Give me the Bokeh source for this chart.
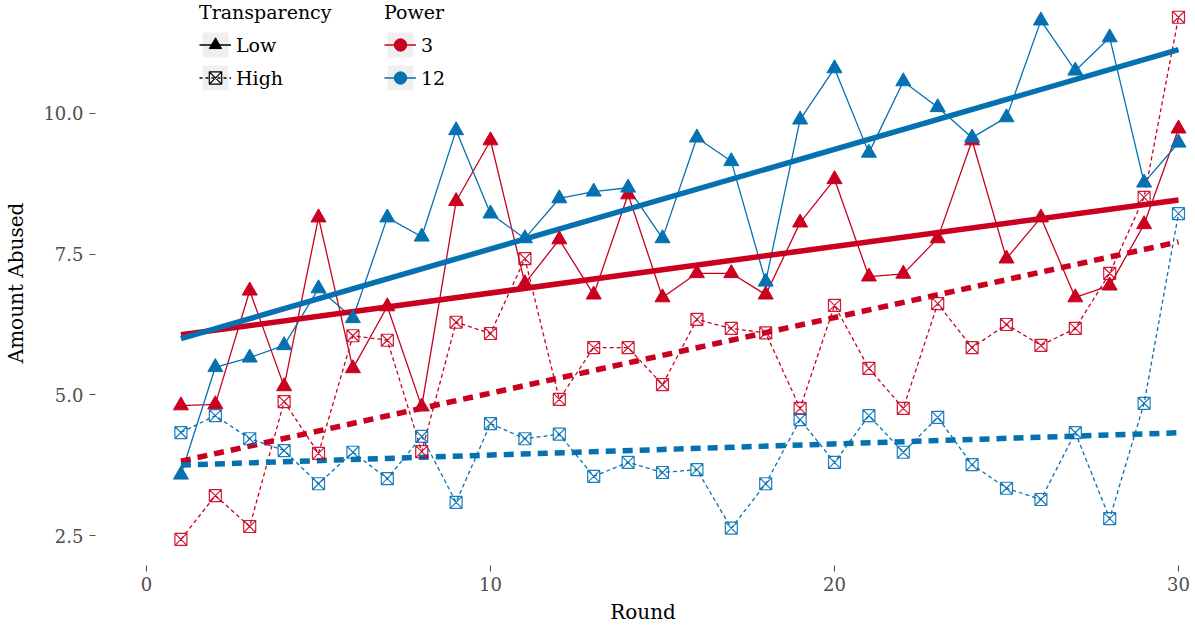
import numpy as np
from bokeh.plotting import figure
from bokeh.models import Range1d, FixedTicker, PrintfTickFormatter, Legend, LegendItem
from bokeh.embed import file_html
from bokeh.resources import INLINE

# ---------------- data ----------------
rounds = [1, 2, 3, 4, 5, 6, 7, 8, 9, 10, 11, 12, 13, 14, 15,
          16, 17, 18, 19, 20, 21, 22, 23, 24, 25, 26, 27, 28, 29, 30]

low_power3 = [4.81, 4.83, 6.85, 5.15, 8.15, 5.47, 6.57, 4.79, 8.44, 9.52,
              6.98, 7.76, 6.78, 8.56, 6.73, 7.16, 7.16, 6.78, 8.06, 8.83,
              7.10, 7.15, 7.78, 9.52, 7.42, 8.15, 6.73, 6.94, 8.03, 9.73]

low_power12 = [3.58, 5.49, 5.66, 5.88, 6.89, 6.36, 8.15, 7.81, 9.70, 8.22,
               7.78, 8.49, 8.61, 8.68, 7.78, 9.57, 9.15, 7.01, 9.89, 10.80,
               9.30, 10.57, 10.11, 9.57, 9.93, 11.65, 10.76, 11.35, 8.77, 9.48]

high_power3 = [2.43, 3.21, 2.66, 4.88, 3.96, 6.05, 5.97, 3.99, 6.29, 6.09,
               7.42, 4.92, 5.84, 5.84, 5.18, 6.34, 6.18, 6.10, 4.76, 6.59,
               5.47, 4.76, 6.62, 5.84, 6.25, 5.88, 6.18, 7.16, 8.51, 11.71]

high_power12 = [4.33, 4.63, 4.22, 4.01, 3.42, 3.98, 3.51, 4.26, 3.09, 4.49,
                4.22, 4.30, 3.55, 3.80, 3.62, 3.67, 2.63, 3.42, 4.56, 3.80,
                4.63, 3.98, 4.60, 3.76, 3.34, 3.14, 4.33, 2.80, 4.85, 8.22]

transparency_levels = ["Low", "High"]
power_levels = ["3", "12"]
x_ticks = [0, 10, 20, 30]
y_ticks = [2.5, 5.0, 7.5, 10.0]

# ---------------- styling ----------------
RED = "#CA0020"
BLUE = "#0571B0"
FONT = "DejaVu Serif"
GREY_TXT = "#4d4d4d"
NAN = float("nan")

W, H = 1195, 630
BORDER_LEFT = 95
BORDER_RIGHT = 5
BORDER_BOTTOM = 65
FRAME_H = H - BORDER_BOTTOM

p = figure(width=W, height=H,
           x_range=Range1d(-1.483, 30.349), y_range=Range1d(1.967, 12.008),
           output_backend="svg", toolbar_location=None,
           min_border_left=BORDER_LEFT, min_border_right=BORDER_RIGHT,
           min_border_top=0, min_border_bottom=BORDER_BOTTOM)

p.background_fill_color = "white"
p.border_fill_color = "white"
p.outline_line_color = None
p.xgrid.visible = False
p.ygrid.visible = False

for ax in (p.xaxis[0], p.yaxis[0]):
    ax.axis_line_color = None
    ax.major_tick_line_color = GREY_TXT
    ax.major_tick_line_width = 1
    ax.major_tick_out = 6
    ax.major_tick_in = 0
    ax.minor_tick_line_color = None
    ax.major_label_text_font = FONT
    ax.major_label_text_font_size = "18px"
    ax.major_label_text_color = GREY_TXT
    ax.axis_label_text_font = FONT
    ax.axis_label_text_font_size = "20px"
    ax.axis_label_text_font_style = "normal"
    ax.axis_label_text_color = "black"

p.xaxis.ticker = FixedTicker(ticks=x_ticks)
p.yaxis.ticker = FixedTicker(ticks=y_ticks)
p.yaxis.formatter = PrintfTickFormatter(format="%.1f")
p.xaxis.axis_label = "Round"
p.yaxis.axis_label = "Amount Abused"
p.xaxis.major_label_standoff = 5
p.yaxis.major_label_standoff = 6
p.xaxis.axis_label_standoff = 6
p.yaxis.axis_label_standoff = 12

series = [
    (low_power3, RED, "solid", "triangle"),
    (low_power12, BLUE, "solid", "triangle"),
    (high_power3, RED, "4 3", "square_x"),
    (high_power12, BLUE, "4 3", "square_x"),
]

# thin connecting lines
for vals, col, dash, mk in series:
    p.line(rounds, vals, line_color=col, line_width=1.3, line_dash=dash)

# linear fits (thick)
xs = np.array(rounds, dtype=float)
ends = [xs.min(), xs.max()]
for vals, col, dash, mk in series:
    b, a = np.polyfit(xs, np.array(vals, dtype=float), 1)
    fit_dash = "solid" if dash == "solid" else "10 7"
    p.line(ends, [a + b * ends[0], a + b * ends[1]], line_color=col,
           line_width=5.5, line_dash=fit_dash)

# markers
for vals, col, dash, mk in series:
    if mk == "triangle":
        p.scatter(rounds, vals, marker="triangle", size=15,
                  fill_color=col, line_color=col, line_width=1)
    else:
        p.scatter(rounds, vals, marker="square_x", size=12,
                  fill_color=None, line_color=col, line_width=1.2, line_alpha=0.9)

# ---------------- legends (key glyphs only; NaN data so nothing shows in the plot) ----------------
key_bg = p.quad(left=[NAN], right=[NAN], top=[NAN], bottom=[NAN], fill_color="#efefef", line_color=None)
k_low_line = p.line([NAN], [NAN], line_color="black", line_width=1.3)
k_low_mk = p.scatter([NAN], [NAN], marker="triangle", size=15, fill_color="black", line_color="black")
k_high_line = p.line([NAN], [NAN], line_color="black", line_width=1.3, line_dash="3 3")
k_high_mk = p.scatter([NAN], [NAN], marker="square_x", size=12, fill_color=None, line_color="black", line_width=1.2)
k_red_line = p.line([NAN], [NAN], line_color=RED, line_width=1.3)
k_red_mk = p.scatter([NAN], [NAN], marker="circle", size=12, fill_color=RED, line_color=RED)
k_blue_line = p.line([NAN], [NAN], line_color=BLUE, line_width=1.3)
k_blue_mk = p.scatter([NAN], [NAN], marker="circle", size=12, fill_color=BLUE, line_color=BLUE)

KEY = 31
TITLE_STANDOFF = 6
LEG_H = 22 + TITLE_STANDOFF + KEY + 2 + KEY

def make_legend(title, items, loc):
    leg = Legend(items=items, title=title, location=loc)
    leg.background_fill_alpha = 0
    leg.border_line_color = None
    leg.padding = 0
    leg.margin = 0
    leg.spacing = 2
    leg.glyph_width = 32
    leg.glyph_height = KEY
    leg.label_height = KEY
    leg.label_standoff = 5
    leg.title_standoff = TITLE_STANDOFF
    leg.label_text_font = FONT
    leg.label_text_font_size = "19px"
    leg.title_text_font = FONT
    leg.title_text_font_size = "19px"
    leg.title_text_font_style = "normal"
    leg.label_text_color = "black"
    leg.title_text_color = "black"
    return leg

leg_t = make_legend("Transparency", [
    LegendItem(label=transparency_levels[0], renderers=[key_bg, k_low_line, k_low_mk]),
    LegendItem(label=transparency_levels[1], renderers=[key_bg, k_high_line, k_high_mk]),
], (104, FRAME_H - LEG_H - 1))
leg_p = make_legend("Power", [
    LegendItem(label=power_levels[0], renderers=[key_bg, k_red_line, k_red_mk]),
    LegendItem(label=power_levels[1], renderers=[key_bg, k_blue_line, k_blue_mk]),
], (289, FRAME_H - LEG_H - 1))
p.add_layout(leg_t)
p.add_layout(leg_p)

open("out.html", "w").write(file_html(p, INLINE))
